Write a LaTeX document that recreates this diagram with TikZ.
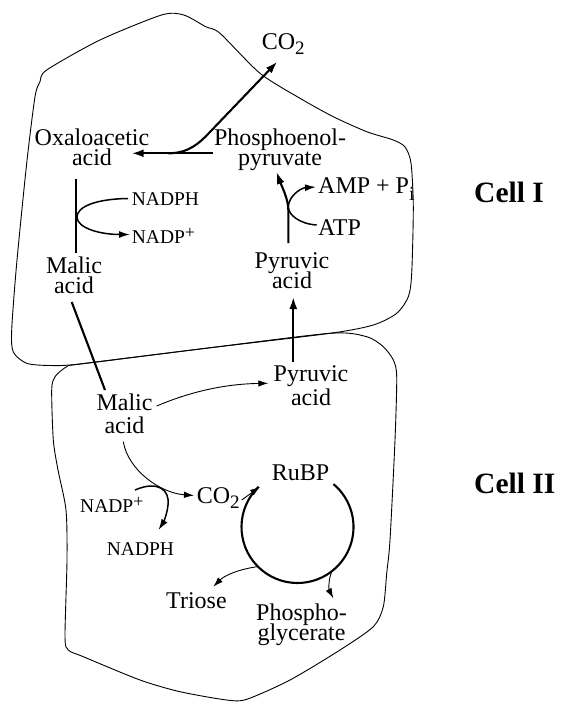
\documentclass[tikz,border=0pt]{standalone}
\usepackage{fontspec}
\setmainfont{Liberation Serif}
\usetikzlibrary{arrows.meta}
\newcommand{\mysubtwo}{\raisebox{-5pt}{\fontsize{19}{19}\selectfont 2}}
\newcommand{\mysubi}{\raisebox{-7pt}{\fontsize{20}{20}\selectfont i}}
\newcommand{\myplus}{\raisebox{4.5pt}{\fontsize{18}{18}\selectfont +}}
\newcommand{\mynolskip}{\lineskiplimit=-50pt\relax}
\begin{document}
\begin{tikzpicture}[x=1pt,y=-1pt,
  lbl/.style={font={\fontsize{24}{20.5}\selectfont\mynolskip}, inner sep=0pt, align=center},
  lblwide/.style={font={\fontsize{24}{23.3}\selectfont\mynolskip}, inner sep=0pt, align=center},
  small/.style={font=\fontsize{19.5}{20}\selectfont, inner sep=0pt},
  celltxt/.style={font=\fontsize{29.5}{30}\selectfont\bfseries, inner sep=0pt},
  cellwall/.style={line width=0.9pt, line join=round},
  thickarrow/.style={line width=2.1pt, -{Latex[length=12pt,width=8pt]}},
  thickline/.style={line width=2.1pt},
  medarrow/.style={line width=1.5pt, -{Latex[length=11pt,width=7pt]}},
  thinarrow/.style={line width=0.9pt, -{Latex[length=10pt,width=6.5pt]}},
  cycle/.style={line width=2.1pt}
]
\fill[white] (0,0) rectangle (576,714);
\useasboundingbox (0,0) rectangle (576,714);

% ---- cell outlines ----
\draw[cellwall] plot[smooth cycle, tension=0.45] coordinates {
 (80,364) (200,349) (330,333.3) (373.3,325) (396.7,313.3) (408.3,296.7)
 (411.7,273.3) (413.3,206.7) (411,163) (405,147) (393.3,140) (366.7,131.7)
 (333.3,116.7) (300,98.3) (260,73.3) (220,33.3) (205.7,26.7) (183.7,15)
 (161.6,15) (100,40) (46.7,70) (40,81.7) (35,96.7) (26.7,163.3) (16.7,263.3)
 (11.7,330) (13.3,352) (26.7,363.3) (50,365.5)};
\draw[cellwall] plot[smooth cycle, tension=0.45] coordinates {
 (80,364) (200,349) (330,333.3) (366.7,336.7) (383.3,346.7) (393.3,360)
 (396.7,376.7) (395,440) (390,540) (386.7,573.3) (383.3,606.7) (373.3,626.7)
 (340,650) (290,680) (246.7,699.3) (226.7,700) (180,691.7) (140,680)
 (83.3,656.7) (68.3,650) (65,636.7) (67,560) (66,510) (58,470) (53.3,440)
 (51.7,390) (55,376.7) (66.7,366.7)};

% ---- labels (multi-line nodes: base = baseline of last line) ----
\node[lbl, anchor=base west] (co2t) at (261.7,50) {CO\mysubtwo};
\node[lbl, anchor=base] (oaa) at (92,165.5) {Oxaloacetic\\acid};
\node[lbl, anchor=base] (pep) at (280,165.5) {Phosphoenol-\\pyruvate};
\node[small, anchor=base west] (nadph1) at (131.7,205) {NADPH};
\node[small, anchor=base west] (nadp1) at (131.7,243) {NADP\myplus};
\node[lbl, anchor=base] (malic1) at (74,293.5) {Malic\\acid};
\node[lbl, anchor=base west] (amp) at (318,193.5) {AMP + P\mysubi};
\node[lbl, anchor=base west] (atp) at (318,235) {ATP};
\node[lbl, anchor=base] (pyr1) at (292,288.5) {Pyruvic\\acid};
\node[lblwide, anchor=base] (malic2) at (124.5,433.3) {Malic\\acid};
\node[lblwide, anchor=base] (pyr2) at (311,405) {Pyruvic\\acid};
\node[small, anchor=base west] (nadp2) at (80,512) {NADP\myplus};
\node[small, anchor=base west] (nadph2) at (106.7,555) {NADPH};
\node[lbl, anchor=base west] (co2b) at (196.7,503) {CO\mysubtwo};
\node[lbl, anchor=base west] (rubp) at (271.7,480) {RuBP};
\node[lbl, anchor=base west] (triose) at (166,608) {Triose};
\node[lbl, anchor=base] (pga) at (301.5,640.5) {Phospho-\\glycerate};
\node[celltxt, anchor=base west] (cell1) at (474,202) {Cell I};
\node[celltxt, anchor=base west] (cell2) at (474,493) {Cell II};

\coordinate (cyc) at (297.5,527);

% ---- Cell I connectors ----
\draw[thickarrow] ([shift={(-67,-12.2)}]pep.base) -- ([shift={(39.7,-12.2)}]oaa.base);
\draw[thickarrow] ([shift={(76.3,-12.2)}]oaa.base) .. controls +(20,0) and +(-10,10.5) .. (209,133)
   -- ([shift={(15.6,11.7)}]co2t.base west);
\draw[thickline] ([shift={(-16,13.5)}]oaa.base) -- ([shift={(2,-40.5)}]malic1.base);
\draw[medarrow] ([shift={(-3.7,-6.5)}]nadph1.base west) .. controls (95,199) and (77,207) .. (77,217)
   .. controls (77,228) and (100,234.5) .. ([shift={(-1.7,-8.5)}]nadp1.base west);
\draw[thickarrow] ([shift={(-3.7,-45.5)}]pyr1.base) -- (288.3,210)
   .. controls (288.3,199) and (282,187) .. ([shift={(-3.5,6.5)}]pep.base);
\draw[medarrow] ([shift={(-1.3,-10)}]atp.base west) .. controls (300,224) and (288.3,215) .. (288.3,207)
   .. controls (288.3,197) and (300,188) .. ([shift={(-2,-6.5)}]amp.base west);

% ---- between cells ----
\draw[thickline] ([shift={(-2.3,8.5)}]malic1.base) -- ([shift={(-19.5,-43.3)}]malic2.base);
\draw[thickarrow] ([shift={(-17.7,-43.3)}]pyr2.base) -- ([shift={(1.3,8.5)}]pyr1.base);

% ---- Cell II connectors ----
\draw[thinarrow] ([shift={(32.2,-27.3)}]malic2.base) .. controls (185,394) and (220,384) .. ([shift={(-42.7,-21.7)}]pyr2.base);
\draw[thinarrow] ([shift={(-1.2,8.4)}]malic2.base) .. controls (128,470) and (160,493) .. ([shift={(-2.7,-7.5)}]co2b.base west);
\draw[medarrow] ([shift={(55,-22)}]nadp2.base west) .. controls (158,480) and (170,490) .. (168,505)
   .. controls (167,515) and (163,523) .. ([shift={(51.8,-25)}]nadph2.base west);
\draw[cycle] ([shift={(226:56)}]cyc) arc[start angle=226, end angle=-50, radius=56];
\draw[thinarrow] ([shift={(45,-3)}]co2b.base west) -- ([shift={(227:55)}]cyc);
\draw[thinarrow] ([shift={(135:56)}]cyc) .. controls (240,569) and (225,575) .. ([shift={(47.3,-21.3)}]triose.base west);
\draw[thinarrow] ([shift={(52:56)}]cyc) .. controls (328,580) and (329,590) .. ([shift={(31.8,-42.2)}]pga.base);
\end{tikzpicture}
\end{document}
